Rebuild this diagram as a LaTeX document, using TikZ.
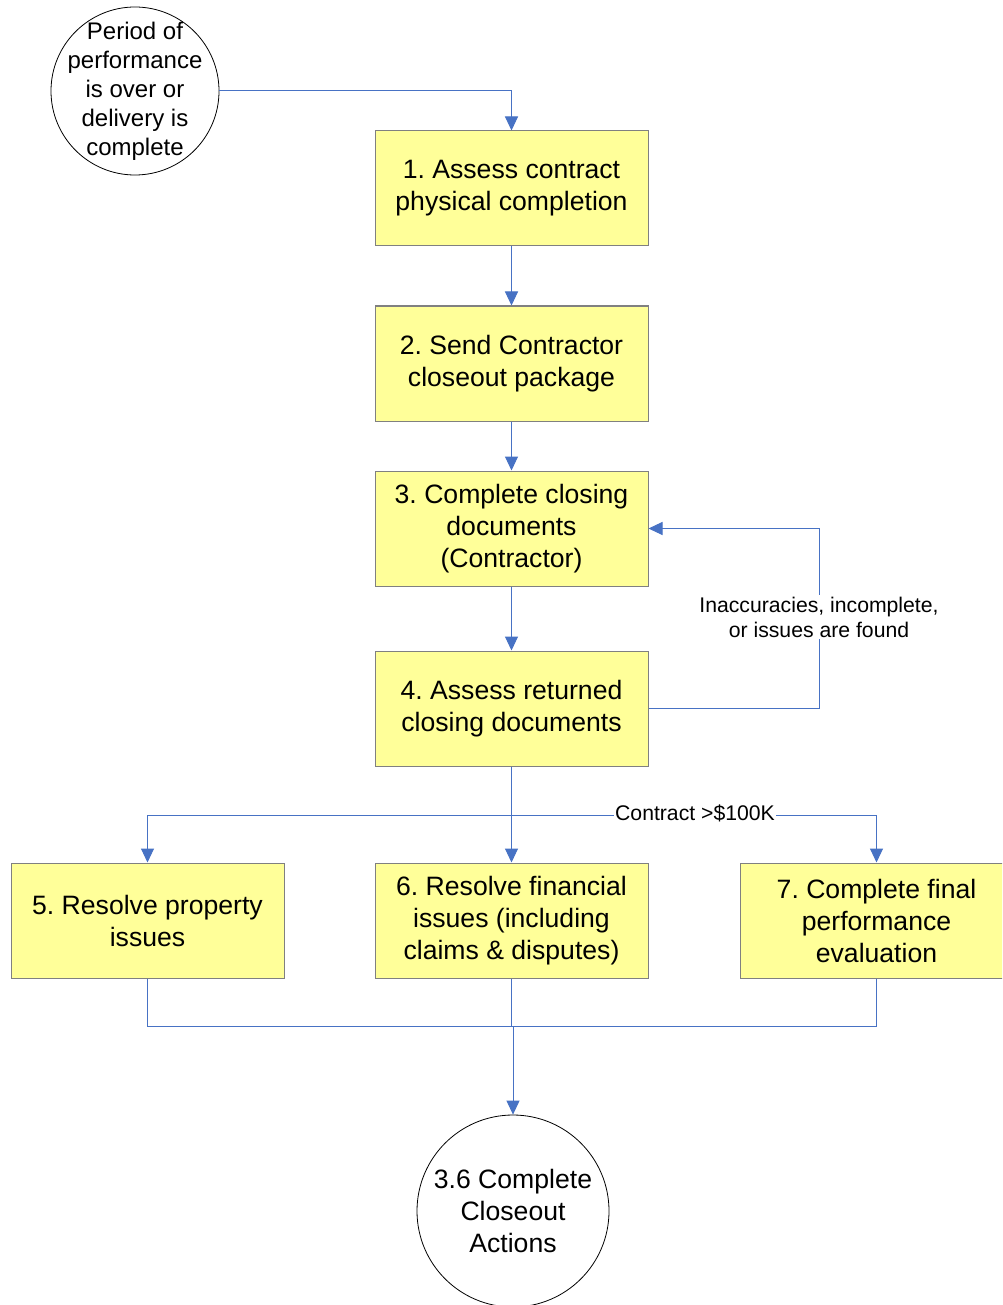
\documentclass[tikz,border=0pt]{standalone}
\usepackage{fontspec}
\setmainfont{Liberation Sans}
\usetikzlibrary{arrows.meta}
\frenchspacing
\definecolor{lineblue}{RGB}{71,114,196}
\definecolor{boxfill}{RGB}{255,255,153}
\definecolor{boxline}{RGB}{128,128,128}
\tikzset{
  stepbox/.style={draw=boxline, line width=1pt, fill=boxfill, minimum width=273pt, minimum height=115pt, inner sep=0pt, align=center, font=\frenchspacing\fontsize{26.6pt}{32pt}\selectfont},
  termcirc/.style={draw=black, line width=0.8pt, circle, fill=white, inner sep=-14pt, align=center},
  conn/.style={draw=lineblue, line width=1pt},
  arr/.style={conn, -{Triangle[width=13pt,length=14pt]}},
  lbl/.style={fill=white, inner sep=1.5pt, align=center, font=\fontsize{21.2pt}{25pt}\selectfont}
}
\begin{document}
\begin{tikzpicture}[x=1pt,y=-1pt]
\clip (0,0) rectangle (1002,1305);
\fill[white] (0,0) rectangle (1002,1305);

\node[termcirc, minimum size=168pt, font=\fontsize{24pt}{29pt}\selectfont] (start) at (135,91) {Period of\\performance\\is over or\\delivery is\\complete};
\node[stepbox] (b1) at (511.5,188.5) {1. Assess contract\\physical completion};
\node[stepbox] (b2) at (511.5,363.5) {2. Send Contractor\\closeout package};
\node[stepbox] (b3) at (511.5,528.5) {3. Complete closing\\documents\\(Contractor)};
\node[stepbox] (b4) at (511.5,708.5) {4. Assess returned\\closing documents};
\node[stepbox] (b5) at (147.5,920.5) {5. Resolve property\\issues};
\node[stepbox] (b6) at (511.5,920.5) {6. Resolve financial\\issues (including\\claims \& disputes)};
\node[stepbox] (b7) at (876.5,920.5) {7. Complete final\\performance\\evaluation};
\node[termcirc, minimum size=192pt, font=\fontsize{26.6pt}{32pt}\selectfont] (end) at (513,1211) {3.6 Complete\\Closeout\\Actions};

\coordinate (fbx) at (819,0);
\coordinate (jt) at (511.5,815);
\coordinate (jb) at (513,1026);

\draw[arr] (start.east) -| (b1.north);
\draw[arr] (b1.south) -- (b2.north);
\draw[arr] (b2.south) -- (b3.north);
\draw[arr] (b3.south) -- (b4.north);
\draw[arr] (b4.east) -| (fbx |- b3.east) -- (b3.east);
\node[lbl] (fblabel) at (819,617) {Inaccuracies, incomplete,\\or issues are found};

\draw[arr] (b4.south) -- (b6.north);
\draw[arr] (jt) -| (b5.north);
\draw[arr] (jt) -| (b7.north);
\node[lbl] (clabel) at (695,813) {Contract >\$100K};

\draw[conn] (b5.south) |- (jb);
\draw[conn] (b7.south) |- (jb);
\draw[conn] (b6.south) -- (b6.south |- jb);
\draw[arr] (jb) -- (end.north);
\end{tikzpicture}
\end{document}
